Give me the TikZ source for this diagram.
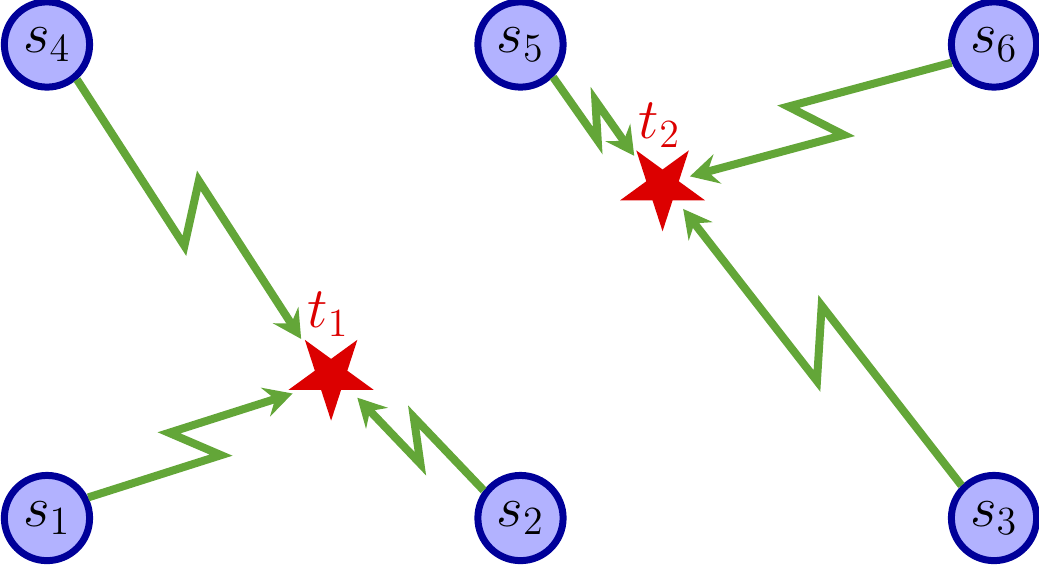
\documentclass[tikz,border=0pt]{standalone}
\usetikzlibrary{shapes.geometric,decorations,arrows.meta}

\definecolor{azulclaro}{RGB}{178,178,255}
\definecolor{azulborde}{RGB}{0,0,153}
\definecolor{verderayo}{RGB}{99,166,56}
\definecolor{rojoestrella}{RGB}{220,0,0}

% zigzag tipo rayo (segment length = retroceso, amplitude = desvio)
\pgfdeclaredecoration{rayoz}{dibujo}{%
  \state{dibujo}[width=\pgfdecoratedinputsegmentlength, next state=final]{%
    \pgfpathlineto{\pgfpoint{0.5*\pgfdecoratedinputsegmentlength+0.5*\pgfdecorationsegmentlength}{-\pgfdecorationsegmentamplitude}}%
    \pgfpathlineto{\pgfpoint{0.5*\pgfdecoratedinputsegmentlength-0.5*\pgfdecorationsegmentlength}{\pgfdecorationsegmentamplitude}}%
  }%
  \state{final}{\pgfpathlineto{\pgfpointdecoratedpathlast}}%
}

\tikzset{
  fuente/.style={circle, draw=azulborde, fill=azulclaro, line width=2.1pt,
    minimum size=0.9cm, inner sep=0pt, font=\LARGE},
  destino/.style={star, star points=5, star point ratio=2.618,
    shape border rotate=180, fill=rojoestrella, minimum size=0.944cm, inner sep=0pt},
  etiqueta/.style={text=rojoestrella, font=\LARGE, inner sep=0pt},
  rayo/.style={verderayo, line width=2.4pt,
    -{Stealth[length=8.5pt,width=9pt,inset=3pt]}, shorten >=3pt,
    decorate, decoration={rayoz, amplitude=7.5pt, segment length=12pt}}
}

\begin{document}
\begin{tikzpicture}
    \useasboundingbox (-0.496,-0.517) rectangle (10.475,5.47);

    % Fuentes s_i
    \node[fuente] (s1) at (0,0)  {$s_1$};
    \node[fuente] (s2) at (5,0)  {$s_2$};
    \node[fuente] (s3) at (10,0) {$s_3$};
    \node[fuente] (s4) at (0,5)  {$s_4$};
    \node[fuente] (s5) at (5,5)  {$s_5$};
    \node[fuente] (s6) at (10,5) {$s_6$};

    % Destinos t_1 y t_2 (estrellas)
    \node[destino] (t1) at (3,1.5) {};
    \node[destino] (t2) at (6.5,3.5) {};
    \node[etiqueta] (t1lab) at (2.97,2.15) {$t_1$};
    \node[etiqueta] (t2lab) at (6.47,4.15) {$t_2$};

    % Rayos hacia t_1
    \draw[rayo, decoration={amplitude=8pt}] (s4) -- (t1);
    \draw[rayo, decoration={amplitude=6.5pt, segment length=11pt}] (s1) -- (t1);
    \draw[rayo, decoration={amplitude=5pt, segment length=10pt}] (s2) -- (t1);

    % Rayos hacia t_2
    \draw[rayo, decoration={amplitude=4pt, segment length=9pt}] (s5) -- (t2);
    \draw[rayo, decoration={amplitude=7.2pt}] (s6) -- (t2);
    \draw[rayo, decoration={amplitude=8.5pt, segment length=15pt}] (s3) -- (t2);
\end{tikzpicture}
\end{document}
